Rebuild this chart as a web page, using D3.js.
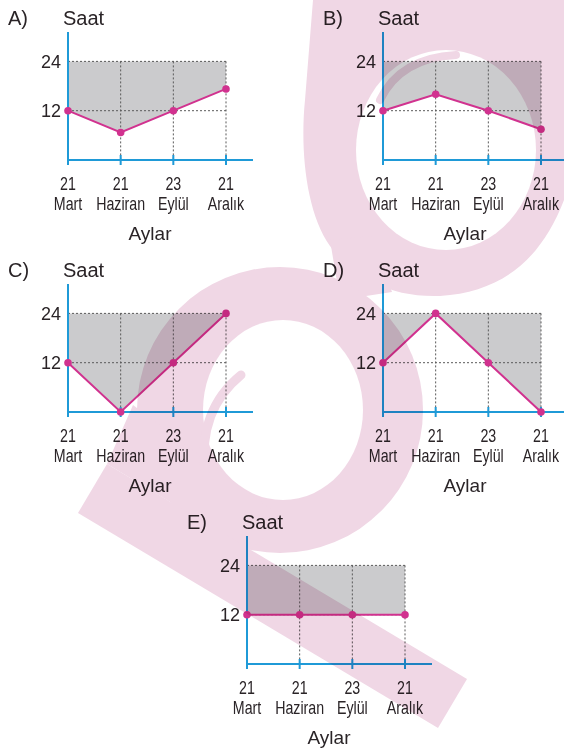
<!DOCTYPE html>
<html>
<head>
<meta charset="utf-8">
<script src="https://cdn.jsdelivr.net/npm/d3@7"></script>
<style>
  body { margin: 0; background: #fff; }
  text { font-family: "Liberation Sans", Arial, sans-serif; fill: #2a2427; }
</style>
</head>
<body>
<div id="chart"></div>
<script>
// tick labels
var days = ["21", "21", "23", "21"];
var months = ["Mart", "Haziran", "Eylül", "Aralık"];
var yTicks = [12, 24];

// hours of daylight for each option
var valuesA = [12, 6.7, 12, 17.3];
var valuesB = [12, 16, 12, 7.5];
var valuesC = [12, 0, 12, 24];
var valuesD = [12, 24, 12, 0];
var valuesE = [12, 12, 12, 12];

var W = 564, H = 752;
var blue = "#1f9ad7", magenta = "#d1328f", gray = "#cbcbcd", pink = "#f0d7e5";

var svg = d3.select("#chart")
    .append("svg")
    .attr("width", W)
    .attr("height", H);

// where each small chart sits (y axis x, x axis y)
var panels = [
    { name: "A)", values: valuesA, x0: 68, y0: 160 },
    { name: "B)", values: valuesB, x0: 383, y0: 160 },
    { name: "C)", values: valuesC, x0: 68, y0: 412 },
    { name: "D)", values: valuesD, x0: 383, y0: 412 },
    { name: "E)", values: valuesE, x0: 247, y0: 664 }
];

panels.forEach(function (p) {
    var g = svg.append("g");

    var x = d3.scalePoint()
        .domain(months)
        .range([p.x0, p.x0 + 158]);
    var y = d3.scaleLinear()
        .domain([0, 24])
        .range([p.y0, p.y0 - 98.6]);

    var pts = p.values.map(function (v, i) { return { m: months[i], v: v }; });

    // shaded part between the line and 24
    var area = d3.area()
        .x(function (d) { return x(d.m); })
        .y0(y(24))
        .y1(function (d) { return y(d.v); });
    g.append("path")
        .attr("d", area(pts))
        .attr("fill", gray);

    // dashed guides
    yTicks.forEach(function (t) {
        g.append("line")
            .attr("x1", x(months[0])).attr("x2", x(months[3]))
            .attr("y1", y(t)).attr("y2", y(t))
            .attr("stroke", "#5a5a5a").attr("stroke-width", 1)
            .attr("stroke-dasharray", "2,2");
    });
    months.slice(1).forEach(function (m) {
        g.append("line")
            .attr("x1", x(m)).attr("x2", x(m))
            .attr("y1", y(24)).attr("y2", y(0))
            .attr("stroke", "#5a5a5a").attr("stroke-width", 1)
            .attr("stroke-dasharray", "2,2");
    });

    // axes
    g.append("line")
        .attr("x1", p.x0).attr("x2", p.x0)
        .attr("y1", p.y0 + 1).attr("y2", p.y0 - 128)
        .attr("stroke", blue).attr("stroke-width", 2);
    g.append("line")
        .attr("x1", p.x0 - 1).attr("x2", p.x0 + 185)
        .attr("y1", p.y0).attr("y2", p.y0)
        .attr("stroke", blue).attr("stroke-width", 2);
    months.forEach(function (m) {
        g.append("line")
            .attr("x1", x(m)).attr("x2", x(m))
            .attr("y1", p.y0 - 5).attr("y2", p.y0 + 5)
            .attr("stroke", blue).attr("stroke-width", 2);
    });

    // the line and its dots
    var line = d3.line()
        .x(function (d) { return x(d.m); })
        .y(function (d) { return y(d.v); });
    g.append("path")
        .attr("d", line(pts))
        .attr("fill", "none")
        .attr("stroke", magenta)
        .attr("stroke-width", 2);
    g.selectAll("circle")
        .data(pts)
        .enter()
        .append("circle")
        .attr("cx", function (d) { return x(d.m); })
        .attr("cy", function (d) { return y(d.v); })
        .attr("r", 3.8)
        .attr("fill", magenta);

    // texts
    g.append("text")
        .attr("x", p.x0 - 60).attr("y", p.y0 - 135)
        .style("font-size", "20px")
        .text(p.name);
    g.append("text")
        .attr("x", p.x0 - 5).attr("y", p.y0 - 135)
        .style("font-size", "20px")
        .text("Saat");
    yTicks.forEach(function (t) {
        g.append("text")
            .attr("x", p.x0 - 7).attr("y", y(t) + 6.5)
            .attr("text-anchor", "end")
            .style("font-size", "18px")
            .text(t);
    });
    // condensed two-line tick labels
    months.forEach(function (m, i) {
        g.append("text")
            .attr("transform", "translate(" + x(m) + "," + (p.y0 + 30) + ") scale(0.79,1)")
            .attr("text-anchor", "middle")
            .style("font-size", "18px")
            .text(days[i]);
        g.append("text")
            .attr("transform", "translate(" + x(m) + "," + (p.y0 + 50) + ") scale(0.79,1)")
            .attr("text-anchor", "middle")
            .style("font-size", "18px")
            .text(m);
    });
    g.append("text")
        .attr("x", p.x0 + 82).attr("y", p.y0 + 80)
        .attr("text-anchor", "middle")
        .style("font-size", "19px")
        .text("Aylar");
});

// pale publisher mark laid over the page
var mask = svg.append("defs").append("mask").attr("id", "holes");
mask.append("rect").attr("width", W).attr("height", H).attr("fill", "#fff");
mask.append("ellipse").attr("cx", 446).attr("cy", 150).attr("rx", 90).attr("ry", 100).attr("fill", "#000");
mask.append("ellipse").attr("cx", 283).attr("cy", 410).attr("rx", 80).attr("ry", 90).attr("fill", "#000");

var mark = svg.append("g")
    .style("mix-blend-mode", "multiply");
var body = mark.append("g")
    .attr("mask", "url(#holes)")
    .attr("fill", pink);
body.append("path")
    .attr("d", "M313,0 L564,0 L564,200 C540,262 500,292 440,296 C385,298 348,272 330,246 C306,212 300,150 305,100 Z");
body.append("path")
    .attr("d", "M330,240 L372,236 L392,292 L340,300 Z");
body.append("circle")
    .attr("cx", 280).attr("cy", 410).attr("r", 143);
body.append("path")
    .attr("d", "M133,405 L107,464 L250,550 L285,520 Z");
body.append("path")
    .attr("d", "M78,513 L107,464 L467,679 L438,728 Z");
mark.append("path")
    .attr("d", "M241,375 Q198,410 205,472")
    .attr("fill", "none").attr("stroke", pink)
    .attr("stroke-width", 9).attr("stroke-linecap", "round");
mark.append("path")
    .attr("d", "M456,55 Q400,58 380,100")
    .attr("fill", "none").attr("stroke", pink)
    .attr("stroke-width", 8).attr("stroke-linecap", "round");
</script>
</body>
</html>
